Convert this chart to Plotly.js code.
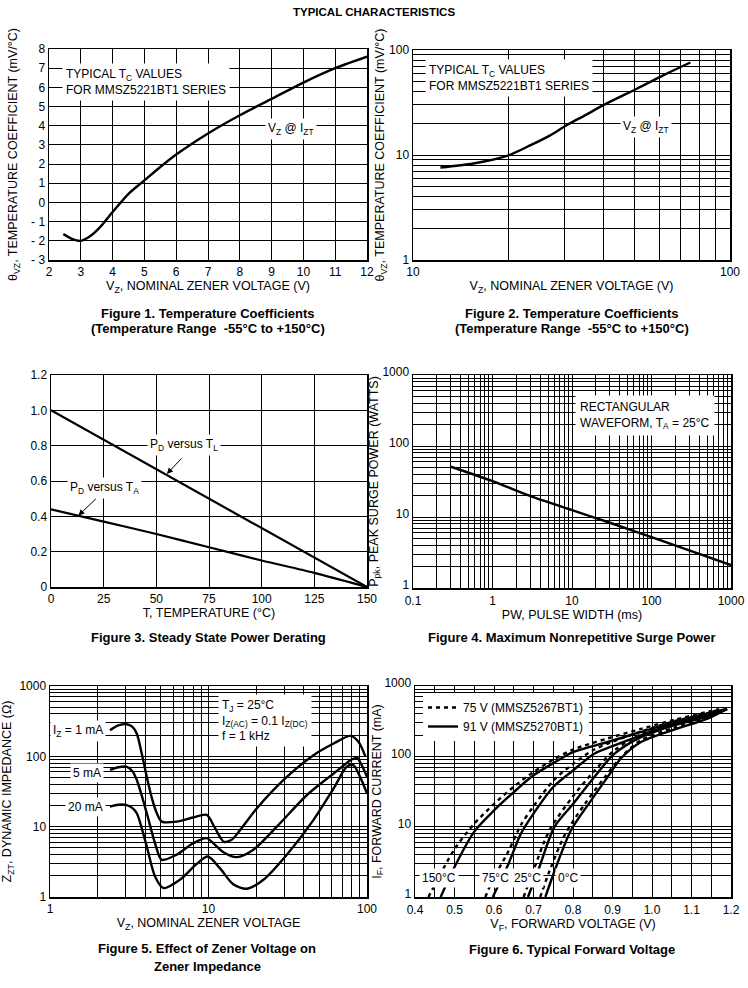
<!DOCTYPE html>
<html>
<head>
<meta charset="utf-8">
<script src="https://cdn.plot.ly/plotly-3.0.1.min.js"></script>
<style>
html,body{margin:0;padding:0;background:#fff;}
#chart{width:748px;height:988px;}
</style>
</head>
<body>
<div id="chart"></div>
<script>
// ---------- DATA ----------
// Figure 1: temperature coefficient vs Vz (linear)
const fig1Vz = [2.45, 2.7, 3.0, 3.3, 3.6, 4.0, 4.5, 5.0, 5.5, 6.0, 7.0, 8.0, 9.0, 10.0, 11.0, 12.0];
const fig1Tc = [-1.65, -1.88, -2.0, -1.75, -1.3, -0.5, 0.45, 1.15, 1.85, 2.5, 3.6, 4.55, 5.4, 6.25, 7.0, 7.6];
const fig1XTicks = [2, 3, 4, 5, 6, 7, 8, 9, 10, 11, 12];
const fig1YTicks = [-3, -2, -1, 0, 1, 2, 3, 4, 5, 6, 7, 8];
const fig1YText = ['- 3', '- 2', '- 1', '0', '1', '2', '3', '4', '5', '6', '7', '8'];

// Figure 2: temperature coefficient vs Vz (log-log)
const fig2Vz = [12.2, 15.5, 19.8, 23.5, 27, 30.6, 35, 40, 51, 62, 75];
const fig2Tc = [7.6, 8.3, 9.8, 12.4, 15.3, 19.3, 24, 30, 43, 58, 76];

// Figure 3: steady state power derating
const fig3TL_T = [0, 150];
const fig3TL_P = [1.0, 0];
const fig3TA_T = [0, 25, 50, 75, 100, 125, 150];
const fig3TA_P = [0.44, 0.37, 0.30, 0.225, 0.15, 0.08, 0];
const fig3XTicks = [0, 25, 50, 75, 100, 125, 150];
const fig3YTicks = [0, 0.2, 0.4, 0.6, 0.8, 1.0, 1.2];
const fig3YText = ['0', '0.2', '0.4', '0.6', '0.8', '1.0', '1.2'];

// Figure 4: max nonrepetitive surge power
const fig4Pw = [0.3, 1, 3.2, 10, 32, 100, 1000];
const fig4Ppk = [51, 32, 19.2, 12.5, 8.1, 5.2, 2.1];

// Figure 5: zener impedance vs zener voltage
const fig5Vz1 = [2.39, 2.7, 3.05, 3.3, 3.53, 3.79, 4.08, 4.4, 4.72, 5.07, 6.3, 8.0, 9.75, 11.0, 12.5, 14.0, 15.85, 20.2, 31.2, 46, 61.6, 78.5, 88.5, 97.6];
const fig5Z1  = [235, 275, 286, 265, 210, 110, 51, 25, 15.5, 11.8, 11.8, 13.5, 14.7, 9.5, 6.1, 6.5, 9, 18.3, 51, 104, 152, 195, 160, 100];
const fig5Vz5 = [2.39, 2.7, 3.05, 3.3, 3.53, 4.08, 4.6, 5.07, 6.3, 8.0, 9.75, 11.0, 12.5, 15.1, 19.2, 27, 41.8, 61.6, 80, 86.5, 92.6, 100];
const fig5Z5  = [64, 70, 71, 62, 46, 15.5, 5.8, 3.38, 4.0, 5.8, 6.86, 5.5, 4.3, 3.69, 4.7, 10, 28.2, 57, 90, 95, 75, 51];
const fig5Vz20 = [2.39, 2.7, 3.05, 3.3, 3.53, 4.08, 4.6, 5.2, 6.6, 8.4, 9.9, 11.8, 14.4, 17.5, 22.2, 31.2, 46, 61.6, 74.5, 82, 90.4, 100];
const fig5Z20  = [19.3, 20.5, 20.3, 18.5, 15.5, 5.2, 1.96, 1.34, 1.76, 2.94, 3.77, 2.57, 1.5, 1.31, 1.76, 4.0, 12.5, 35, 71, 75, 51, 29.8];

// Figure 6: forward voltage (solid = 91 V, dotted = 75 V)
const fig6S150V = [0.465, 0.5, 0.55, 0.6, 0.65, 0.7, 0.75, 0.8, 0.888, 0.972, 1.056, 1.141, 1.19];
const fig6S150I = [1, 2.67, 8.5, 17, 31, 53.7, 80, 115, 160, 222, 308, 405, 476];
const fig6S75V = [0.597, 0.635, 0.668, 0.7, 0.75, 0.8, 0.854, 0.905, 0.972, 1.056, 1.141, 1.19];
const fig6S75I = [1, 2.82, 7.9, 15.3, 36.6, 63, 109, 143, 199, 291, 381, 470];
const fig6S25V = [0.686, 0.715, 0.753, 0.8, 0.854, 0.905, 0.972, 1.056, 1.141, 1.19];
const fig6S25I = [1, 2.67, 9.9, 21, 51, 109, 188, 276, 370, 470];
const fig6S0V = [0.73, 0.757, 0.795, 0.846, 0.888, 0.921, 0.972, 1.056, 1.141, 1.19];
const fig6S0I = [1, 2.67, 8.9, 23.7, 51, 93, 160, 240, 343, 470];
const fig6D150V = [0.434, 0.46, 0.5, 0.55, 0.6, 0.65, 0.7, 0.75, 0.8, 0.888, 0.972, 1.056, 1.141, 1.17];
const fig6D150I = [1, 1.9, 4.8, 11, 21, 37, 60, 90, 125, 180, 245, 330, 430, 470];
const fig6D75V = [0.578, 0.6, 0.635, 0.668, 0.7, 0.75, 0.8, 0.854, 0.905, 0.972, 1.056, 1.141, 1.17];
const fig6D75I = [1, 1.9, 4.3, 10.5, 19.5, 45, 78, 125, 165, 225, 315, 410, 460];
const fig6D25V = [0.675, 0.7, 0.74, 0.8, 0.854, 0.905, 0.972, 1.056, 1.141, 1.17];
const fig6D25I = [1, 2.4, 8.8, 27, 62, 122, 205, 295, 390, 450];
const fig6D0V = [0.717, 0.74, 0.78, 0.83, 0.88, 0.92, 0.972, 1.056, 1.141, 1.17];
const fig6D0I = [1, 2.3, 7.8, 21, 50, 95, 170, 255, 360, 440];
const fig6XTicks = [0.4, 0.5, 0.6, 0.7, 0.8, 0.9, 1.0, 1.1, 1.2];
const fig6XText = ['0.4', '0.5', '0.6', '0.7', '0.8', '0.9', '1.0', '1.1', '1.2'];
const fig6XMinor = [0.45, 0.55, 0.65, 0.75, 0.85, 0.95, 1.05, 1.15];

// decade labels for log axes
const decades2X = [10, 100];
const decades2Y = [1, 10, 100];
const decades4X = [0.1, 1, 10, 100, 1000];
const decades4Y = [1, 10, 100, 1000];
const decades5X = [1, 10, 100];
const decades5Y = [1, 10, 100, 1000];
const decades6Y = [1, 10, 100, 1000];

// ---------- HELPERS ----------
const W = 748, H = 988;
const px = x => x / W;
const py = y => 1 - y / H;
const FONT = 'Liberation Sans, Arial, Helvetica, sans-serif';
const GRID = {showgrid: true, gridcolor: '#000', gridwidth: 1, ticks: ''};

// decade labels + minor gridlines at 2..9 x decade
function logAxis(decs) {
  const minor = [];
  for (let i = 0; i < decs.length - 1; i++) {
    for (let m = 2; m <= 9; m++) minor.push(+(decs[i] * m).toPrecision(6));
  }
  return {tickmode: 'array', tickvals: decs, ticktext: decs.map(String),
          minor: Object.assign({tickmode: 'array', tickvals: minor}, GRID)};
}

function axis(dom, extra) {
  return Object.assign({
    domain: dom, showgrid: true, gridcolor: '#000', gridwidth: 1,
    showline: true, mirror: true, linecolor: '#000', linewidth: 1.5,
    ticks: '', zeroline: false, tickfont: {size: 12, color: '#000', family: FONT},
    fixedrange: true, automargin: false
  }, extra);
}
function ttl(text, standoff) {
  return {text: text, font: {size: 12.5, color: '#000', family: FONT}, standoff: standoff};
}

const lineS = {color: '#000', width: 2.4, shape: 'spline', smoothing: 0.8};
const lineD = {color: '#000', width: 2.4, shape: 'spline', smoothing: 0.8, dash: '4px,4px'};

const traces = [
  {x: fig1Vz, y: fig1Tc, xaxis: 'x', yaxis: 'y', mode: 'lines', line: lineS, showlegend: false},
  {x: fig2Vz, y: fig2Tc, xaxis: 'x2', yaxis: 'y2', mode: 'lines', line: lineS, showlegend: false},
  {x: fig3TL_T, y: fig3TL_P, xaxis: 'x3', yaxis: 'y3', mode: 'lines', line: {color: '#000', width: 2.2}, showlegend: false},
  {x: fig3TA_T, y: fig3TA_P, xaxis: 'x3', yaxis: 'y3', mode: 'lines', line: Object.assign({}, lineS, {width: 2.2}), showlegend: false},
  {x: fig4Pw, y: fig4Ppk, xaxis: 'x4', yaxis: 'y4', mode: 'lines', line: lineS, showlegend: false},
  {x: fig5Vz1, y: fig5Z1, xaxis: 'x5', yaxis: 'y5', mode: 'lines', line: lineS, showlegend: false},
  {x: fig5Vz5, y: fig5Z5, xaxis: 'x5', yaxis: 'y5', mode: 'lines', line: lineS, showlegend: false},
  {x: fig5Vz20, y: fig5Z20, xaxis: 'x5', yaxis: 'y5', mode: 'lines', line: lineS, showlegend: false},
  {x: fig6D150V, y: fig6D150I, xaxis: 'x6', yaxis: 'y6', mode: 'lines', line: lineD, name: '75 V (MMSZ5267BT1)', showlegend: true},
  {x: fig6S150V, y: fig6S150I, xaxis: 'x6', yaxis: 'y6', mode: 'lines', line: lineS, name: '91 V (MMSZ5270BT1)', showlegend: true},
  {x: fig6D75V, y: fig6D75I, xaxis: 'x6', yaxis: 'y6', mode: 'lines', line: lineD, showlegend: false},
  {x: fig6S75V, y: fig6S75I, xaxis: 'x6', yaxis: 'y6', mode: 'lines', line: lineS, showlegend: false},
  {x: fig6D25V, y: fig6D25I, xaxis: 'x6', yaxis: 'y6', mode: 'lines', line: lineD, showlegend: false},
  {x: fig6S25V, y: fig6S25I, xaxis: 'x6', yaxis: 'y6', mode: 'lines', line: lineS, showlegend: false},
  {x: fig6D0V, y: fig6D0I, xaxis: 'x6', yaxis: 'y6', mode: 'lines', line: lineD, showlegend: false},
  {x: fig6S0V, y: fig6S0I, xaxis: 'x6', yaxis: 'y6', mode: 'lines', line: lineS, showlegend: false}
];

const VZ_TITLE = 'V<sub>Z</sub>, NOMINAL ZENER VOLTAGE (V)';
const TC_TITLE = 'θ<sub>VZ</sub>, TEMPERATURE COEFFICIENT (mV/°C)';

function note(x, y, text, opts) {
  return Object.assign({
    xref: 'paper', yref: 'paper', x: px(x), y: py(y), text: text, showarrow: false,
    font: {size: 12, color: '#000', family: FONT}, bgcolor: '#fff',
    xanchor: 'center', yanchor: 'middle', align: 'left', borderpad: 2
  }, opts || {});
}
function caption(x, y, text) {
  return {xref: 'paper', yref: 'paper', x: px(x), y: py(y), text: text, showarrow: false,
    font: {size: 13, color: '#000', family: FONT, weight: 'bold'},
    xanchor: 'center', yanchor: 'middle', align: 'center'};
}

const annotations = [
  {xref: 'paper', yref: 'paper', x: 0.5, y: py(12), text: 'TYPICAL CHARACTERISTICS', showarrow: false,
   font: {size: 11.5, color: '#000', family: 'Liberation Sans Narrow, ' + FONT, weight: 'bold'}, xanchor: 'center', yanchor: 'middle'},
  // Fig 1
  note(62, 82, 'TYPICAL T<sub>C</sub> VALUES<br>FOR MMSZ5221BT1 SERIES', {xanchor: 'left', borderpad: 3}),
  note(291, 129, 'V<sub>Z</sub> @ I<sub>ZT</sub>'),
  caption(208, 313, 'Figure 1. Temperature Coefficients'),
  caption(208, 329, '(Temperature Range  -55°C to +150°C)'),
  // Fig 2
  note(425, 78, 'TYPICAL T<sub>C</sub> VALUES<br>FOR MMSZ5221BT1 SERIES', {xanchor: 'left', borderpad: 3}),
  note(646, 127, 'V<sub>Z</sub> @ I<sub>ZT</sub>'),
  caption(572, 313, 'Figure 2. Temperature Coefficients'),
  caption(572, 329, '(Temperature Range  -55°C to +150°C)'),
  // Fig 3
  note(184, 445, 'P<sub>D</sub> versus T<sub>L</sub>'),
  note(104, 488, 'P<sub>D</sub> versus T<sub>A</sub>'),
  {xref: 'x3', yref: 'y3', x: 55, y: 0.64, ax: 16, ay: -17, axref: 'pixel', ayref: 'pixel', text: '',
   showarrow: true, arrowhead: 2, arrowsize: 1.2, arrowwidth: 1, arrowcolor: '#000'},
  {xref: 'x3', yref: 'y3', x: 13, y: 0.405, ax: 19, ay: -18, axref: 'pixel', ayref: 'pixel', text: '',
   showarrow: true, arrowhead: 2, arrowsize: 1.2, arrowwidth: 1, arrowcolor: '#000'},
  caption(208, 637, 'Figure 3. Steady State Power Derating'),
  // Fig 4
  note(575, 415, 'RECTANGULAR<br>WAVEFORM, T<sub>A</sub> = 25°C', {xanchor: 'left', borderpad: 4}),
  caption(572, 637, 'Figure 4. Maximum Nonrepetitive Surge Power'),
  // Fig 5
  note(106, 731, 'I<sub>Z</sub> = 1 mA', {xanchor: 'right'}),
  note(104, 773, '5 mA', {xanchor: 'right'}),
  note(106, 807, '20 mA', {xanchor: 'right'}),
  note(218, 720, 'T<sub>J</sub> = 25°C<br>I<sub>Z(AC)</sub> = 0.1 I<sub>Z(DC)</sub><br>f = 1 kHz', {xanchor: 'left', borderpad: 3}),
  caption(207, 948, 'Figure 5. Effect of Zener Voltage on'),
  caption(207, 966, 'Zener Impedance'),
  // Fig 6
  note(439, 878, '150°C'),
  note(495, 878, '75°C'),
  note(527, 878, '25°C'),
  note(568, 878, '0°C'),
  caption(572, 949, 'Figure 6. Typical Forward Voltage')
];

const layout = {
  width: W, height: H, margin: {l: 0, r: 0, t: 0, b: 0},
  paper_bgcolor: '#fff', plot_bgcolor: '#fff',
  font: {family: FONT, color: '#000', size: 12},
  showlegend: true,
  legend: {x: px(423), y: py(693), xanchor: 'left', yanchor: 'top', bgcolor: '#fff',
           font: {size: 12, family: FONT, color: '#000'}, itemwidth: 30, tracegroupgap: 0,
           borderwidth: 0},
  xaxis: axis([px(49), px(367)], {anchor: 'y', range: [2, 12], tickvals: fig1XTicks, title: ttl(VZ_TITLE, 3)}),
  yaxis: axis([py(260), py(49)], {anchor: 'x', range: [-3, 8], tickvals: fig1YTicks, ticktext: fig1YText, title: ttl(TC_TITLE, 10)}),
  xaxis2: axis([px(413), px(730)], Object.assign({anchor: 'y2', type: 'log', range: [1, 2], title: ttl(VZ_TITLE, 3)}, logAxis(decades2X))),
  yaxis2: axis([py(260), py(50)], Object.assign({anchor: 'x2', type: 'log', range: [0, 2], title: ttl(TC_TITLE, 0)}, logAxis(decades2Y))),
  xaxis3: axis([px(51), px(367)], {anchor: 'y3', range: [0, 150], tickvals: fig3XTicks, title: ttl('T, TEMPERATURE (°C)', 3)}),
  yaxis3: axis([py(587), py(375)], {anchor: 'x3', range: [0, 1.2], tickvals: fig3YTicks, ticktext: fig3YText}),
  xaxis4: axis([px(413), px(731)], Object.assign({anchor: 'y4', type: 'log', range: [-1, 3], ticklabelstandoff: 1, title: ttl('PW, PULSE WIDTH (ms)', 2)}, logAxis(decades4X))),
  yaxis4: axis([py(588), py(375)], Object.assign({anchor: 'x4', type: 'log', range: [0, 3], ticklabelshift: -3, title: ttl('P<sub>pk</sub>, PEAK SURGE POWER (WATTS)', 0)}, logAxis(decades4Y))),
  xaxis5: axis([px(50), px(367)], Object.assign({anchor: 'y5', type: 'log', range: [0, 2], title: ttl('V<sub>Z</sub>, NOMINAL ZENER VOLTAGE', 3)}, logAxis(decades5X))),
  yaxis5: axis([py(897), py(686)], Object.assign({anchor: 'x5', type: 'log', range: [0, 3], title: ttl('Z<sub>ZT</sub>, DYNAMIC IMPEDANCE (Ω)', 6)}, logAxis(decades5Y))),
  xaxis6: axis([px(415), px(731)], {anchor: 'y6', range: [0.4, 1.2], tickmode: 'array', tickvals: fig6XTicks, ticktext: fig6XText, ticklabelstandoff: 1,
           minor: Object.assign({tickmode: 'array', tickvals: fig6XMinor}, GRID), title: ttl('V<sub>F</sub>, FORWARD VOLTAGE (V)', 2)}),
  yaxis6: axis([py(897), py(686)], Object.assign({anchor: 'x6', type: 'log', range: [0, 3], ticklabelshift: -3, title: ttl('I<sub>F</sub>, FORWARD CURRENT (mA)', 0)}, logAxis(decades6Y))),
  annotations: annotations
};

Plotly.newPlot('chart', traces, layout, {displayModeBar: false, staticPlot: true});
</script>
</body>
</html>
